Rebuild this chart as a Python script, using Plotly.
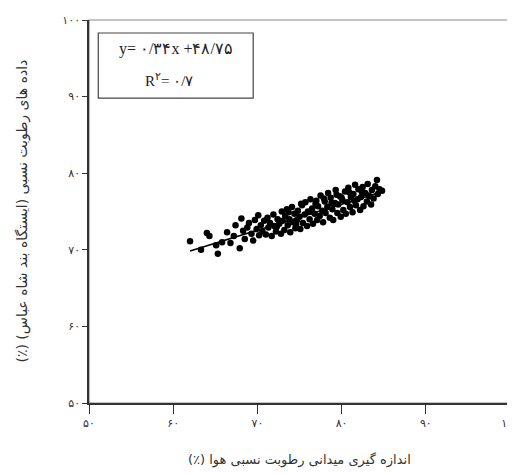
import plotly.graph_objects as go

# measured (field) relative humidity vs station relative humidity (%)
field_rh = [62.0, 63.3, 64.0, 64.3, 65.1, 65.3, 65.8, 66.4, 66.8, 67.2, 67.4, 67.9,
            68.1, 68.3, 68.5, 68.8, 69.0, 69.3, 69.5, 69.7, 69.9, 70.1, 70.2, 70.4, 70.6,
            70.8, 71.0, 71.2, 71.3, 71.5, 71.7, 71.9, 72.0, 72.2, 72.4, 72.6, 72.8, 72.9, 73.0,
            73.2, 73.3, 73.5, 73.6, 73.8, 73.9, 74.1, 74.2, 74.4, 74.5, 74.7, 74.8, 75.0, 75.1,
            75.3, 75.4, 75.6, 75.7, 75.9, 76.0,
            76.2, 76.3, 76.5, 76.6, 76.8, 76.9, 77.1, 77.2, 77.4, 77.5, 77.7, 77.8, 78.0, 78.1,
            78.3, 78.4, 78.6, 78.7, 78.9, 79.0,
            79.2, 79.3, 79.5, 79.6, 79.8, 79.9, 80.1, 80.2, 80.4, 80.5, 80.7, 80.8, 81.0, 81.1,
            81.3, 81.4, 81.6, 81.7, 81.9, 82.0,
            82.2, 82.3, 82.5, 82.6, 82.8, 83.0, 83.1, 83.3, 83.5, 83.6, 83.8, 84.0, 84.2, 84.3,
            84.5, 84.8,
            72.3, 73.7, 74.6, 75.2, 76.4, 77.0, 77.9, 78.8, 79.4, 80.0, 80.9, 81.5, 82.4, 83.2]
station_rh = [71.1, 70.0, 72.2, 71.8, 70.6, 69.5, 71.0, 72.3, 70.9, 71.8, 73.2, 70.2,
              74.1, 72.5, 71.4, 72.9, 73.5, 72.1, 71.2, 73.9, 72.7, 74.5, 71.9, 73.2, 72.4,
              73.8, 72.0, 74.2, 72.9, 73.5, 71.8, 74.6, 73.1, 72.4, 74.0, 73.4, 72.1, 75.0, 73.8,
              72.6, 74.4, 75.3, 73.2, 74.0, 72.3, 75.6, 73.6, 74.7, 72.8, 73.9, 75.1, 74.3, 72.7,
              75.8, 73.5, 74.6, 76.2, 73.1, 75.0,
              74.0, 76.6, 75.4, 73.4, 74.7, 76.0, 73.9, 75.7, 74.4, 77.1, 75.1, 73.6, 76.3, 74.8,
              75.6, 77.4, 74.2, 76.8, 75.3, 73.9,
              76.1, 77.8, 74.8, 75.9, 77.0, 74.3, 76.5, 75.2, 77.6, 74.7, 76.2, 78.1, 75.6, 76.9,
              74.9, 77.3, 78.5, 75.8, 76.6, 77.9,
              75.2, 76.9, 78.2, 75.7, 77.4, 76.3, 78.6, 77.0, 75.9, 77.8, 76.7, 78.3, 79.1, 77.3,
              77.9, 77.7,
              73.0, 74.9, 73.3, 76.0, 75.0, 76.4, 76.7, 76.1, 77.2, 76.8, 77.5, 76.4, 77.6, 77.1]

slope = 0.34
intercept = 48.75
line_x = [62.0, 85.0]
line_y = [slope * v + intercept for v in line_x]

tick_vals = [50, 60, 70, 80, 90, 100]
tick_text = ["۵۰", "۶۰", "۷۰", "۸۰", "۹۰", "۱۰۰"]

RLM = "\u200F"
x_title = RLM + "اندازه گیری میدانی رطوبت نسبی هوا (٪)" + RLM
y_title = RLM + "داده های رطوبت نسبی (ایستگاه بند شاه عباس) (٪)" + RLM
eq_text = "y= ۰/۳۴x +۴۸/۷۵"
r2_text = "R<sup>۲</sup>= ۰/۷"

fig = go.Figure()
fig.add_trace(go.Scatter(x=field_rh, y=station_rh, mode="markers",
                         marker=dict(color="black", size=6.5, line=dict(width=0)),
                         showlegend=False))
fig.add_trace(go.Scatter(x=line_x, y=line_y, mode="lines",
                         line=dict(color="black", width=1.6), showlegend=False))

fig.add_shape(type="rect", xref="paper", yref="paper", x0=0, x1=1, y0=0, y1=1,
              line=dict(color="#888888", width=1.2), layer="below")
fig.add_shape(type="rect", xref="x", yref="y", x0=51.1, x1=69.5, y0=89.8, y1=98.3,
              line=dict(color="#444444", width=1.2), fillcolor="white")
fig.add_annotation(x=60.3, y=96.2, xref="x", yref="y", text=eq_text, showarrow=False,
                   font=dict(family="Liberation Serif, DejaVu Serif, serif", size=16, color="#222"))
fig.add_annotation(x=59.5, y=92.2, xref="x", yref="y", text=r2_text, showarrow=False,
                   font=dict(family="Liberation Serif, DejaVu Serif, serif", size=15, color="#222"))

# axis titles
fig.add_annotation(x=0.5, y=-0.149, xref="paper", yref="paper", text=x_title,
                   showarrow=False, xanchor="center", yanchor="middle",
                   font=dict(family="DejaVu Sans", size=13, color="#333"))
fig.add_annotation(x=-0.159, y=0.5, xref="paper", yref="paper", text=y_title,
                   showarrow=False, xanchor="center", yanchor="middle", textangle=-90,
                   font=dict(family="DejaVu Sans", size=14, color="#333"))

axis_common = dict(range=[50, 100], tickvals=tick_vals, ticktext=tick_text,
                   showgrid=False, zeroline=False, showline=True, linecolor="#333333",
                   linewidth=1.5, ticks="outside", tickcolor="#333333", automargin=False,
                   ticklabeloverflow="allow",
                   tickfont=dict(family="DejaVu Sans", size=11, color="#333"))

fig.update_xaxes(**axis_common, ticklen=9)
fig.update_yaxes(**axis_common, ticklen=5)

# page body has an 8px margin, so the figure is sized to fit the 515x474 window
fig.update_layout(width=507, height=466, margin=dict(l=81, r=5, t=12, b=71),
                  plot_bgcolor="white", paper_bgcolor="white")

fig.write_html("out.html")
